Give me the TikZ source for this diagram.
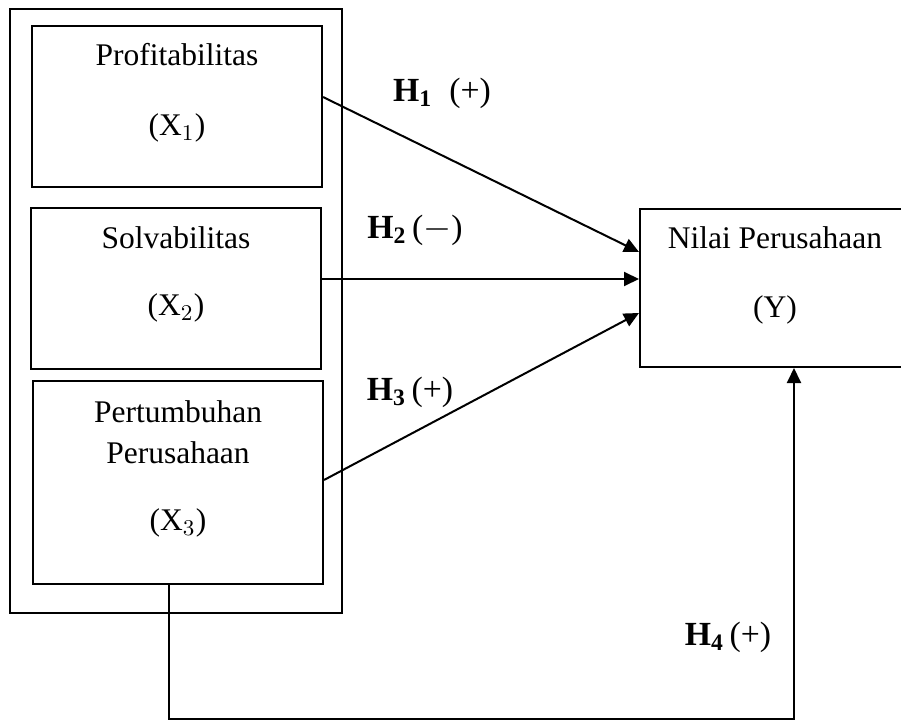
\documentclass[tikz,border=0pt]{standalone}
\usepackage{fontspec}
\setmainfont{Liberation Serif}
\usetikzlibrary{arrows.meta}
\begin{document}
\begin{tikzpicture}[x=0.4pt, y=-0.4pt, line width=0.8pt, line join=miter,
		font=\fontsize{12.6}{15}\selectfont, >={Triangle[length=6pt,width=5.6pt]},
		kotak/.style={draw, rectangle, inner sep=0pt, minimum width=116pt},
		hip/.style={inner sep=0pt, font=\fontsize{13.5}{16}\selectfont}]
		\useasboundingbox (0,0) rectangle (901,720);
		% kotak variabel
		\node[kotak, minimum width=132.8pt, minimum height=241.6pt] (luar) at (176,311) {};
		\node[kotak, minimum height=64.4pt] (x1) at (177,106.5) {};
		\node[kotak, minimum height=64.4pt] (x2) at (176,288.5) {};
		\node[kotak, minimum height=81.2pt] (x3) at (178,482.5) {};
		\node[kotak, minimum width=108pt, minimum height=63.2pt] (y) at (775,288) {};
		% isi kotak
		\node (nx1) at (177,55) {Profitabilitas};
		\node (sx1) at (177,128) {(X$_1$)};
		\node (nx2) at (176,238) {Solvabilitas};
		\node (sx2) at (176,308) {(X$_2$)};
		\node (nx3) at (178,412) {Pertumbuhan};
		\node (nx3b) at (178,453) {Perusahaan};
		\node (sx3) at (178,523) {(X$_3$)};
		\node (ny) at (775,238) {Nilai Perusahaan};
		\node (sy) at (775,310) {(Y)};
		% hipotesis
		\node[hip] (h1) at (442,93) {\textbf{H}$_{\mathbf{1}}$\ \ (+)};
		\node[hip] (h2) at (415,230) {\textbf{H}$_{\mathbf{2}}$\,($-$)};
		\node[hip] (h3) at (410,392) {\textbf{H}$_{\mathbf{3}}$\,(+)};
		\node[hip] (h4) at (728,637) {\textbf{H}$_{\mathbf{4}}$\,(+)};
		% panah
		\draw[->] ([yshift=3.8pt]x1.east) -- ([yshift=14.4pt]y.west);
		\draw[->] ([yshift=3.8pt]x2.east) -- ([yshift=3.6pt]y.west);
		\draw[->] ([yshift=1pt]x3.east) -- ([yshift=-10pt]y.west);
		\draw[->] ([xshift=-3.6pt]x3.south) -- ++(0,134) -| ([xshift=7.6pt]y.south);
\end{tikzpicture}
\end{document}
